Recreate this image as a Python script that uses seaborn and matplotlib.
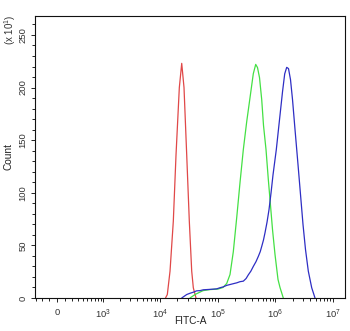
import numpy as np
import pandas as pd
import matplotlib
matplotlib.use("Agg")
import matplotlib.pyplot as plt
from matplotlib.ticker import FixedLocator, FixedFormatter
import seaborn as sns

# FITC-A intensity (linear units) and event counts (x10) for each histogram
red_fitc = [12410, 13340, 14860, 16950, 18880, 21550, 23710, 25980, 28940,
            32110, 35340, 37680, 41970]
red_count = [0, 3.3, 25.5, 73, 136, 200, 223, 200, 136, 73, 25.5, 9.7, 0]

green_fitc = [33020, 40320, 55520, 73390, 101000, 123300, 143000, 163100,
              186100, 213200, 243200, 277500, 317800, 362600, 413600, 455300,
              489200, 529900, 578600, 621600, 687000, 753200, 806000, 890500,
              984000, 1109000, 1201000, 1370000]
green_count = [0, 3.3, 7, 8, 8.5, 10, 13.8, 22.3, 44, 76.4, 109.7, 141, 167.6,
               190.4, 213.2, 222, 219, 209.4, 188.5, 164, 141, 112.6, 93.5, 65,
               41.3, 17.6, 10, 0]

blue_fitc = [23710, 28940, 33000, 37680, 43000, 49240, 56000, 64320, 78000,
             95920, 110000, 124800, 143000, 163100, 186000, 213200, 243000,
             277500, 310000, 338800, 375000, 413600, 460000, 505000, 545000,
             578600, 620000, 659900, 715000, 774400, 840000, 908300, 1036000,
             1178000, 1328000, 1449000, 1570000, 1687000, 1827000, 1980000,
             2188000, 2465000, 2724000, 3010000, 3326000, 3720000, 4262000,
             4861000]
blue_count = [0, 3.3, 4.5, 5.5, 6.8, 7, 7.8, 8, 8.3, 8.7, 9.8, 10.6, 12, 12.8,
              13.6, 14.4, 15.5, 16, 18.5, 22, 25.5, 30, 34.5, 39.5, 44, 49, 55,
              62, 72, 84, 100, 117, 141, 169.5, 196, 213, 219.2, 218, 207.5,
              188.5, 160, 126.8, 98.3, 69.8, 46, 25.5, 9.7, 0]

x_major = [0, 1e3, 1e4, 1e5, 1e6, 1e7]
x_major_labels = ["0", r"$\mathregular{10^3}$", r"$\mathregular{10^4}$",
                  r"$\mathregular{10^5}$", r"$\mathregular{10^6}$",
                  r"$\mathregular{10^7}$"]
y_major = [0, 50, 100, 150, 200, 250]

sns.set_theme(style="white")
plt.rcParams["font.family"] = ["Liberation Sans", "DejaVu Sans"]
plt.rcParams["mathtext.fontset"] = "custom"
plt.rcParams["mathtext.rm"] = "Liberation Sans"

# biexponential-like display transform (arcsinh)
W = 326.0
def fwd(x):
    return np.arcsinh(np.asarray(x, dtype=float) / W) / np.log(10)
def inv(u):
    return W * np.sinh(np.asarray(u, dtype=float) * np.log(10))

fig = plt.figure(figsize=(3.5, 3.31), dpi=100)
ax = fig.add_axes([35 / 350, 33 / 331, 310 / 350, 282 / 331])
ax.set_xscale("function", functions=(fwd, inv))

series = [
    (red_fitc, red_count, "#e04848"),
    (green_fitc, green_count, "#44e044"),
    (blue_fitc, blue_count, "#2e2ec4"),
]
for xs, ys, col in series:
    df = pd.DataFrame({"FITC-A": xs, "Count": ys})
    sns.lineplot(data=df, x="FITC-A", y="Count", color=col, lw=0.9,
                 estimator=None, sort=False, ax=ax)

ax.set_xlim(-325, 1.61e7)
ax.set_ylim(0, 268)

# x ticks
minor_x = [-300, -200, -100] + list(range(100, 1000, 100))
for dec in [1e3, 1e4, 1e5, 1e6]:
    minor_x += [k * dec for k in range(2, 10)]
ax.xaxis.set_major_locator(FixedLocator(x_major))
ax.xaxis.set_major_formatter(FixedFormatter(x_major_labels))
ax.xaxis.set_minor_locator(FixedLocator(minor_x))

# y ticks
ax.yaxis.set_major_locator(FixedLocator(y_major))
ax.yaxis.set_minor_locator(FixedLocator([v for v in range(0, 268, 10) if v % 50]))
ax.set_yticklabels([str(v) for v in y_major])

ax.tick_params(axis="both", which="both", direction="out", color="#222222",
               width=0.7, labelsize=6.8, labelcolor="#333333")
ax.tick_params(axis="both", which="major", length=3.2, pad=2.2)
ax.tick_params(axis="x", which="major", pad=4)
ax.tick_params(axis="both", which="minor", length=2.4)
ax.tick_params(axis="x", which="both", bottom=True)
ax.tick_params(axis="y", which="both", left=True)
for lab in ax.get_yticklabels():
    lab.set_rotation(90)
    lab.set_verticalalignment("center")

for sp in ax.spines.values():
    sp.set_visible(True)
    sp.set_color("#111111")
    sp.set_linewidth(0.8)

ax.set_xlabel("FITC-A", fontsize=7.3, color="#222222")
ax.set_ylabel("Count", fontsize=7.3, color="#222222")
ax.xaxis.label.set_verticalalignment("center")
ax.yaxis.label.set_verticalalignment("center")
ax.xaxis.set_label_coords(0.5, -23 / 282)
ax.yaxis.set_label_coords(-27 / 310, 0.5)

fig.text(10 / 350, 1 - 30 / 331, r"(x $\mathregular{10^1}$)", rotation=90,
         ha="center", va="center", fontsize=7, color="#333333")

fig.savefig("out.png", dpi=100, facecolor="white")
